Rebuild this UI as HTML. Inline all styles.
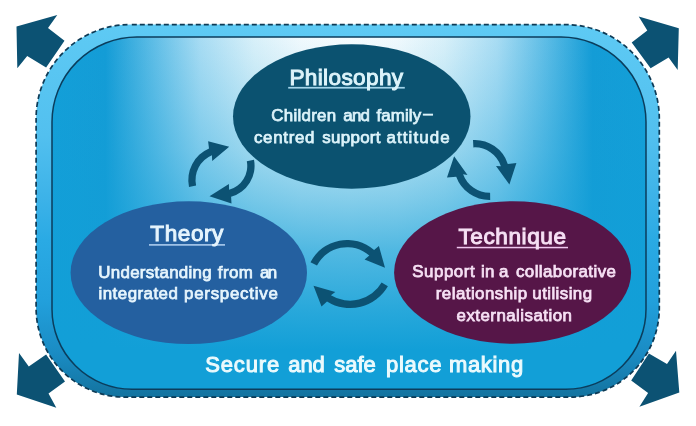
<!DOCTYPE html>
<html><head><meta charset="utf-8">
<style>
html,body{margin:0;padding:0;background:#fff;width:696px;height:426px;overflow:hidden}
svg{display:block}
text{font-family:"Liberation Sans",sans-serif}
svg{will-change:transform}
</style></head>
<body>
<svg width="696" height="426" viewBox="0 0 696 426">
<defs>
  <linearGradient id="ring" gradientUnits="userSpaceOnUse" x1="0" y1="24" x2="0" y2="397">
    <stop offset="0" stop-color="#5ecaf4"/>
    <stop offset="0.3" stop-color="#52c0ef"/>
    <stop offset="0.47" stop-color="#3cb2e8"/>
    <stop offset="0.58" stop-color="#2aaae4"/>
    <stop offset="0.74" stop-color="#22a0dc"/>
    <stop offset="0.88" stop-color="#1a8cc4"/>
    <stop offset="1" stop-color="#13739f"/>
  </linearGradient>
  <linearGradient id="innerH" gradientUnits="userSpaceOnUse" x1="52" y1="0" x2="646" y2="0">
    <stop offset="0" stop-color="#139fd8"/>
    <stop offset="0.09" stop-color="#149cd6"/>
    <stop offset="0.17" stop-color="#5ebde6"/>
    <stop offset="0.25" stop-color="#a8dcf3"/>
    <stop offset="0.34" stop-color="#d8f0f9"/>
    <stop offset="0.42" stop-color="#f0f9fd"/>
    <stop offset="0.5" stop-color="#f6fcfe"/>
    <stop offset="0.58" stop-color="#f0f9fd"/>
    <stop offset="0.66" stop-color="#d8f0f9"/>
    <stop offset="0.75" stop-color="#a8dcf3"/>
    <stop offset="0.83" stop-color="#5ebde6"/>
    <stop offset="0.91" stop-color="#149cd6"/>
    <stop offset="1" stop-color="#139fd8"/>
  </linearGradient>
  <linearGradient id="innerV" gradientUnits="userSpaceOnUse" x1="0" y1="37" x2="0" y2="389">
    <stop offset="0.000" stop-color="#129fd7" stop-opacity="0.00"/>
    <stop offset="0.065" stop-color="#129fd7" stop-opacity="0.05"/>
    <stop offset="0.179" stop-color="#129fd7" stop-opacity="0.15"/>
    <stop offset="0.321" stop-color="#129fd7" stop-opacity="0.30"/>
    <stop offset="0.463" stop-color="#129fd7" stop-opacity="0.50"/>
    <stop offset="0.605" stop-color="#129fd7" stop-opacity="0.72"/>
    <stop offset="0.776" stop-color="#129fd7" stop-opacity="0.90"/>
    <stop offset="0.889" stop-color="#129fd7" stop-opacity="1.00"/>
  </linearGradient>
</defs>

<!-- corner arrows -->
<g fill="#0c5273">
  <polygon points="16.5,26.4 57.3,14.9 48,28 64.5,40.8 46.1,67.4 27.2,55.9 17.3,68.3"/>
  <polygon points="638.7,16.5 678.8,28.3 677.7,69.9 668.6,57.6 650.6,68.3 631.7,42.5 647.3,30.5"/>
  <polygon points="19,353 28.8,366.4 46.1,354.6 65,381.5 48.5,393.5 56.3,407.8 16.8,394.4"/>
  <polygon points="676,350.8 679.3,392.4 639.4,406.7 648.1,393 631.2,380.4 648.9,353.6 667,364"/>
</g>

<!-- outer ring -->
<path d="M130.10,24.60 H565.30 A94.00,94.00 0 0 1 659.30,118.60 V308.10 A89.00,89.00 0 0 1 570.30,397.10 H125.10 A89.00,89.00 0 0 1 36.10,308.10 V118.60 A94.00,94.00 0 0 1 130.10,24.60 Z" fill="url(#ring)" stroke="#0d3a55" stroke-width="1.7" stroke-dasharray="5 3" stroke-dashoffset="-1.7"/>
<!-- inner -->
<path d="M137.00,37.00 H561.00 A85.00,85.00 0 0 1 646.00,122.00 V309.20 A80.00,80.00 0 0 1 566.00,389.20 H132.00 A80.00,80.00 0 0 1 52.00,309.20 V122.00 A85.00,85.00 0 0 1 137.00,37.00 Z" fill="url(#innerH)"/>
<path d="M137.00,37.00 H561.00 A85.00,85.00 0 0 1 646.00,122.00 V309.20 A80.00,80.00 0 0 1 566.00,389.20 H132.00 A80.00,80.00 0 0 1 52.00,309.20 V122.00 A85.00,85.00 0 0 1 137.00,37.00 Z" fill="url(#innerV)" stroke="#0b3d5c" stroke-width="1.5"/>

<!-- ellipses -->
<ellipse cx="351.75" cy="116.5" rx="118.75" ry="72.2" fill="#0b5270"/>
<ellipse cx="188.8" cy="272.7" rx="118.2" ry="71.4" fill="#2460a0"/>
<ellipse cx="512.6" cy="272.45" rx="118.5" ry="71.25" fill="#561648"/>

<!-- circ arrows -->
<g fill="#0c5273">
  <path d="M189.0,186.9 A34.3,34.3 0 0 1 209.0,148.5 L208.1,141.3 L229.2,146.8 L212.2,160.9 L211.9,155.2 A27.0,27.0 0 0 0 196.1,185.4 Z"/>
  <path d="M254.0,159.8 A32.1,32.1 0 0 1 231.1,196.8 L231.5,203.4 L209.5,196.3 L228.9,184.1 L229.1,189.8 A24.8,24.8 0 0 0 246.8,161.2 Z"/>
  <path d="M473.0,140.1 A34.7,34.7 0 0 1 507.8,163.9 L516.4,162.9 L509.4,184.6 L496.0,166.0 L500.9,166.2 A27.4,27.4 0 0 0 473.4,147.4 Z"/>
  <path d="M490.2,200.0 A35.5,35.5 0 0 1 456.2,176.7 L447.0,177.5 L454.1,156.3 L467.5,175.1 L463.1,174.2 A28.2,28.2 0 0 0 490.1,192.7 Z"/>
  <path d="M310.5,262.2 A41.1,41.1 0 0 1 374.1,250.1 L378.9,246.0 L385.0,267.7 L364.6,259.4 L369.3,255.5 A33.8,33.8 0 0 0 317.0,265.5 Z"/>
  <path d="M387.9,286.2 A43.6,43.6 0 0 1 327.0,301.4 L321.5,306.5 L313.5,285.8 L335.3,291.9 L330.9,295.2 A36.3,36.3 0 0 0 381.6,282.5 Z"/>
</g>

<!-- underlines -->
<rect x="288.2" y="86.9" width="116.6" height="1.7" fill="#a2d4ea"/>
<rect x="149" y="244.1" width="76" height="1.6" fill="#acccee"/>
<rect x="456.8" y="246.8" width="111.2" height="1.5" fill="#efc6ee"/>
<!-- texts -->
<text x="289.40" y="84.50" font-size="22.60" fill="#dcf3fa" stroke="#dcf3fa" stroke-width="1.00" textLength="113.70" lengthAdjust="spacing">Philosophy</text>
<text x="150.30" y="241.30" font-size="22.60" fill="#e6f5fd" stroke="#e6f5fd" stroke-width="1.00" textLength="73.10" lengthAdjust="spacing">Theory</text>
<text x="458.40" y="243.90" font-size="22.60" fill="#f6e0f4" stroke="#f6e0f4" stroke-width="1.00" textLength="107.70" lengthAdjust="spacing">Technique</text>
<text x="271.20" y="121.00" font-size="16.90" fill="#dcf3fa" stroke="#dcf3fa" stroke-width="0.75" textLength="65.00" lengthAdjust="spacing">Children</text>
<text x="343.20" y="121.00" font-size="16.90" fill="#dcf3fa" stroke="#dcf3fa" stroke-width="0.75" textLength="26.80" lengthAdjust="spacing">and</text>
<text x="376.40" y="121.00" font-size="16.90" fill="#dcf3fa" stroke="#dcf3fa" stroke-width="0.75" textLength="44.70" lengthAdjust="spacing">family</text>
<text x="423.25" y="119.10" font-size="16.90" fill="#dcf3fa" stroke="#dcf3fa" stroke-width="0.75">–</text>
<text x="254.00" y="142.90" font-size="16.90" fill="#dcf3fa" stroke="#dcf3fa" stroke-width="0.75" textLength="60.40" lengthAdjust="spacing">centred</text>
<text x="322.20" y="142.90" font-size="16.90" fill="#dcf3fa" stroke="#dcf3fa" stroke-width="0.75" textLength="58.30" lengthAdjust="spacing">support</text>
<text x="386.50" y="142.90" font-size="16.90" fill="#dcf3fa" stroke="#dcf3fa" stroke-width="0.75" textLength="63.20" lengthAdjust="spacing">attitude</text>
<text x="98.30" y="277.50" font-size="16.90" fill="#e6f5fd" stroke="#e6f5fd" stroke-width="0.75" textLength="113.40" lengthAdjust="spacing">Understanding</text>
<text x="217.80" y="277.50" font-size="16.90" fill="#e6f5fd" stroke="#e6f5fd" stroke-width="0.75" textLength="35.00" lengthAdjust="spacing">from</text>
<text x="260.10" y="277.50" font-size="16.90" fill="#e6f5fd" stroke="#e6f5fd" stroke-width="0.75" textLength="17.10" lengthAdjust="spacing">an</text>
<text x="98.50" y="299.00" font-size="16.90" fill="#e6f5fd" stroke="#e6f5fd" stroke-width="0.75" textLength="79.40" lengthAdjust="spacing">integrated</text>
<text x="184.00" y="299.00" font-size="16.90" fill="#e6f5fd" stroke="#e6f5fd" stroke-width="0.75" textLength="93.80" lengthAdjust="spacing">perspective</text>
<text x="412.20" y="276.60" font-size="16.90" fill="#f6e0f4" stroke="#f6e0f4" stroke-width="0.75" textLength="62.40" lengthAdjust="spacing">Support</text>
<text x="481.00" y="276.60" font-size="16.90" fill="#f6e0f4" stroke="#f6e0f4" stroke-width="0.75" textLength="13.30" lengthAdjust="spacing">in</text>
<text x="499.10" y="276.60" font-size="16.90" fill="#f6e0f4" stroke="#f6e0f4" stroke-width="0.75">a</text>
<text x="516.00" y="276.60" font-size="16.90" fill="#f6e0f4" stroke="#f6e0f4" stroke-width="0.75" textLength="99.90" lengthAdjust="spacing">collaborative</text>
<text x="435.80" y="299.20" font-size="16.90" fill="#f6e0f4" stroke="#f6e0f4" stroke-width="0.75" textLength="91.30" lengthAdjust="spacing">relationship</text>
<text x="532.30" y="299.20" font-size="16.90" fill="#f6e0f4" stroke="#f6e0f4" stroke-width="0.75" textLength="59.80" lengthAdjust="spacing">utilising</text>
<text x="456.60" y="321.40" font-size="16.90" fill="#f6e0f4" stroke="#f6e0f4" stroke-width="0.75" textLength="115.30" lengthAdjust="spacing">externalisation</text>
<text x="205.20" y="372.20" font-size="22.00" fill="#ebfafd" stroke="#ebfafd" stroke-width="1.00" textLength="74.10" lengthAdjust="spacing">Secure</text>
<text x="288.20" y="372.20" font-size="22.00" fill="#ebfafd" stroke="#ebfafd" stroke-width="1.00" textLength="36.60" lengthAdjust="spacing">and</text>
<text x="334.30" y="372.20" font-size="22.00" fill="#ebfafd" stroke="#ebfafd" stroke-width="1.00" textLength="41.50" lengthAdjust="spacing">safe</text>
<text x="386.00" y="372.20" font-size="22.00" fill="#ebfafd" stroke="#ebfafd" stroke-width="1.00" textLength="55.50" lengthAdjust="spacing">place</text>
<text x="448.90" y="372.20" font-size="22.00" fill="#ebfafd" stroke="#ebfafd" stroke-width="1.00" textLength="74.40" lengthAdjust="spacing">making</text>
</svg>
</body></html>
